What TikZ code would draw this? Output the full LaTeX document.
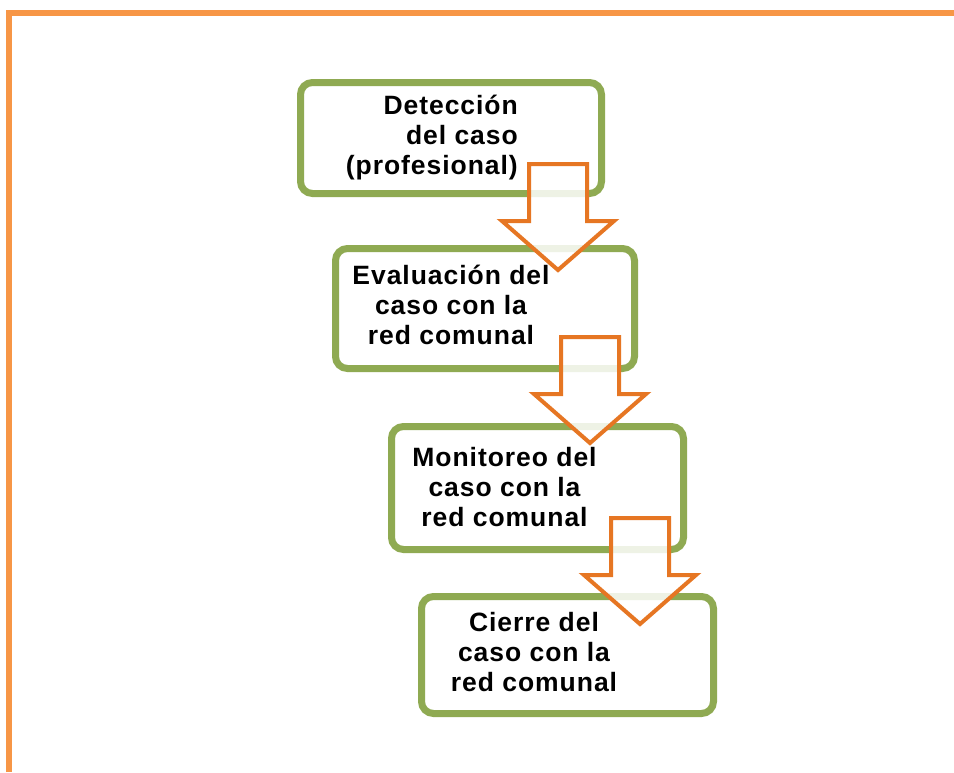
\documentclass[tikz,border=0pt]{standalone}
\usepackage{fontspec}
\setmainfont{Liberation Sans}[LetterSpace=3.6]
\usepackage{tikz}
\usetikzlibrary{
  positioning
}
\definecolor{marco}{RGB}{247,150,70}
\definecolor{verdecaja}{RGB}{143,170,82}
\definecolor{naranjaflecha}{RGB}{230,118,35}
\tikzset{
  marcoline/.style={
    draw=marco,
    line width=6pt
  },
  stepbox/.style={
    draw=verdecaja,
    line width=7pt,
    fill=white,
    rounded corners=12pt,
    inner sep=0pt
  },
  steptext/.style={
    font=\fontsize{26.5}{30}\selectfont\bfseries,
    inner sep=0pt,
    execute at begin node=\strut,
    execute at end node=\strut
  },
  flecha/.pic={
    \draw[draw=naranjaflecha, line width=4pt, fill=white, fill opacity=0.85, line join=miter]
      (-29,0) -- (29,0) -- (29,57) -- (56,57) -- (0,106) -- (-56,57) -- (-29,57) -- cycle;
  }
}
\begin{document}
\begin{tikzpicture}[x=1pt, y=-1pt]
  \useasboundingbox (0,0) rectangle (954,772);
  \draw[marcoline] (9,772) -- (9,13) -- (954,13);

  % cajas
  \node[stepbox, minimum width=301pt, minimum height=111pt] (caja1) at (451,138) {};
  \node[stepbox, minimum width=299pt, minimum height=120pt] (caja2) at (485,308.5) {};
  \node[stepbox, minimum width=292pt, minimum height=123pt] (caja3) at (537.5,488) {};
  \node[stepbox, minimum width=292pt, minimum height=117pt] (caja4) at (567.5,655) {};

  \node[steptext, align=right, anchor=east] (texto1) at (518,139) {Detección\\del caso\\(profesional)};
  \node[steptext, align=center] (texto2) at (451,309) {Evaluación del\\caso con la\\red comunal};
  \node[steptext, align=center] (texto3) at (504.5,491) {Monitoreo del\\caso con la\\red comunal};
  \node[steptext, align=center] (texto4) at (534,656.5) {Cierre del\\caso con la\\red comunal};

  % flechas
  \pic at (558,164) {flecha};
  \pic at (590,337) {flecha};
  \pic at (640,518) {flecha};
\end{tikzpicture}
\end{document}
